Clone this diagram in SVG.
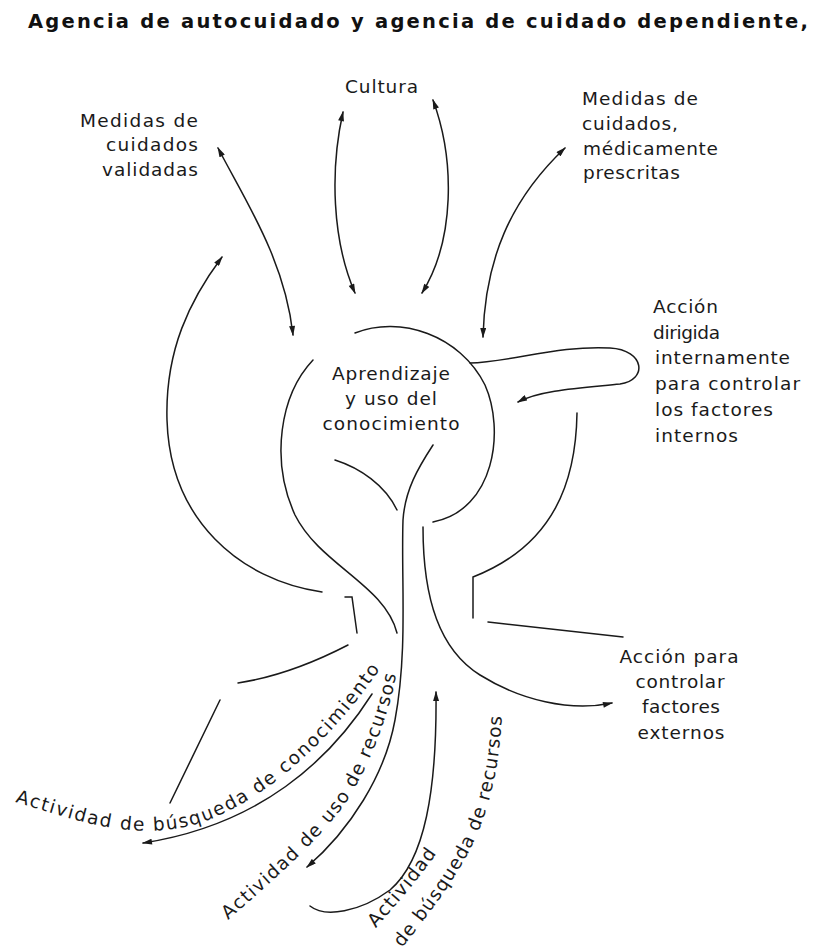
<svg xmlns="http://www.w3.org/2000/svg" width="816" height="951" viewBox="0 0 816 951">
<style>
.t{font-family:"DejaVu Sans","Liberation Sans",sans-serif;font-size:18.5px;fill:#1a1a1a}
.c{text-anchor:middle}
.e{text-anchor:end}
.ttl{font-family:"DejaVu Sans","Liberation Sans",sans-serif;font-size:19.5px;font-weight:bold;fill:#111}
.ln{fill:none;stroke:#1a1a1a;stroke-width:1.5;stroke-linecap:round}
</style>
<defs>
<marker id="ah" viewBox="0 0 10 6" refX="9" refY="3" markerWidth="11" markerHeight="6" markerUnits="userSpaceOnUse" orient="auto-start-reverse">
<path d="M0,0 L10,3 L0,6 z" fill="#1a1a1a"/>
</marker>
<path id="pKnow" d="M15,802 C 70,818 120,838 180,828 C 250,815 330,745 386,660"/>
<path id="pUse" d="M228,920 C 280,875 330,830 352,793 C 372,758 390,712 397,670"/>
<path id="pAct" d="M376,928 C 395,906 420,878 438,851"/>
<path id="pSeek" d="M402,948 C 428,915 462,872 479,830 C 492,797 500,760 502,712"/>
</defs>
<rect width="816" height="951" fill="#fff"/>

<g id="title">
<text class="ttl" x="28" y="28" textLength="780" lengthAdjust="spacing">Agencia de autocuidado y agencia de cuidado dependiente,</text>
</g>

<g id="connectors">
<path class="ln" d="M218,148 C 245,200 285,260 293,335" marker-start="url(#ah)" marker-end="url(#ah)"/>
<path class="ln" d="M343,112 C 330,170 332,240 355,293" marker-start="url(#ah)" marker-end="url(#ah)"/>
<path class="ln" d="M433,100 C 455,160 455,240 422,293" marker-start="url(#ah)" marker-end="url(#ah)"/>
<path class="ln" d="M565,148 C 510,200 485,260 483,337" marker-start="url(#ah)" marker-end="url(#ah)"/>
<path class="ln" d="M322,592 C 240,580 170,520 167,420 C 165,350 190,300 222,257" marker-end="url(#ah)"/>
<path class="ln" d="M313,360 C 280,395 270,460 295,515 C 320,565 385,585 397,633"/>
<path class="ln" d="M355,333 C 400,315 460,335 485,385 C 505,430 495,510 433,522"/>
<path class="ln" d="M470,363 C 510,362 560,345 610,348 C 645,350 648,380 620,384 C 580,388 540,390 518,402" marker-end="url(#ah)"/>
<path class="ln" d="M335,460 C 360,468 385,485 397,510"/>
<path class="ln" d="M433,445 C 418,468 405,490 403,520 C 401,580 408,650 395,720 C 385,775 350,830 307,867" marker-end="url(#ah)"/>
<path class="ln" d="M423,527 C 423,600 440,650 480,675 C 520,700 570,712 612,703" marker-end="url(#ah)"/>
<path class="ln" d="M577,413 C 576,480 555,545 473,577 L 473,618"/>
<path class="ln" d="M488,622 L 623,637"/>
<path class="ln" d="M345,597 L 352,597 L 357,633"/>
<path class="ln" d="M348,645 Q 290,675 238,683"/>
<path class="ln" d="M220,700 L 170,803"/>
<path class="ln" d="M372,694 C 330,760 260,825 143,843" marker-end="url(#ah)"/>
<path class="ln" d="M310,906 C 325,918 360,912 390,890 C 425,860 437,790 436,692" marker-end="url(#ah)"/>
</g>

<g id="cultura">
<text class="t" x="345" y="93" textLength="73" lengthAdjust="spacing">Cultura</text>
</g>

<g id="medidas-validadas">
<text class="t e" x="198" y="127" textLength="118" lengthAdjust="spacing">Medidas de</text>
<text class="t e" x="198" y="151" textLength="92" lengthAdjust="spacing">cuidados</text>
<text class="t e" x="198" y="176" textLength="96" lengthAdjust="spacing">validadas</text>
</g>

<g id="medidas-prescritas">
<text class="t" x="582" y="105" textLength="116" lengthAdjust="spacing">Medidas de</text>
<text class="t" x="582" y="130" textLength="96" lengthAdjust="spacing">cuidados,</text>
<text class="t" x="583" y="155" textLength="135" lengthAdjust="spacing">médicamente</text>
<text class="t" x="583" y="179" textLength="97" lengthAdjust="spacing">prescritas</text>
</g>

<g id="accion-interna">
<text class="t" x="653" y="313" textLength="65" lengthAdjust="spacing">Acción</text>
<text class="t" x="653" y="339" textLength="67" lengthAdjust="spacing">dirigida</text>
<text class="t" x="655" y="364" textLength="135" lengthAdjust="spacing">internamente</text>
<text class="t" x="655" y="390" textLength="145" lengthAdjust="spacing">para controlar</text>
<text class="t" x="655" y="416" textLength="118" lengthAdjust="spacing">los factores</text>
<text class="t" x="655" y="442" textLength="83" lengthAdjust="spacing">internos</text>
</g>

<g id="aprendizaje">
<text class="t c" x="391" y="380" textLength="118" lengthAdjust="spacing">Aprendizaje</text>
<text class="t c" x="391" y="405" textLength="92" lengthAdjust="spacing">y uso del</text>
<text class="t c" x="391" y="430" textLength="137" lengthAdjust="spacing">conocimiento</text>
</g>

<g id="accion-externa">
<text class="t c" x="679" y="663" textLength="119" lengthAdjust="spacing">Acción para</text>
<text class="t c" x="680" y="688" textLength="89" lengthAdjust="spacing">controlar</text>
<text class="t c" x="681" y="713" textLength="78" lengthAdjust="spacing">factores</text>
<text class="t c" x="681" y="739" textLength="87" lengthAdjust="spacing">externos</text>
</g>

<g id="busqueda-conocimiento">
<text class="t"><textPath href="#pKnow" textLength="430" lengthAdjust="spacing">Actividad de búsqueda de conocimiento</textPath></text>
</g>

<g id="uso-recursos">
<text class="t"><textPath href="#pUse" textLength="305" lengthAdjust="spacing">Actividad de uso de recursos</textPath></text>
</g>

<g id="busqueda-recursos">
<text class="t"><textPath href="#pAct" textLength="96" lengthAdjust="spacing">Actividad</textPath></text>
<text class="t"><textPath href="#pSeek" textLength="258" lengthAdjust="spacing">de búsqueda de recursos</textPath></text>
</g>
</svg>
